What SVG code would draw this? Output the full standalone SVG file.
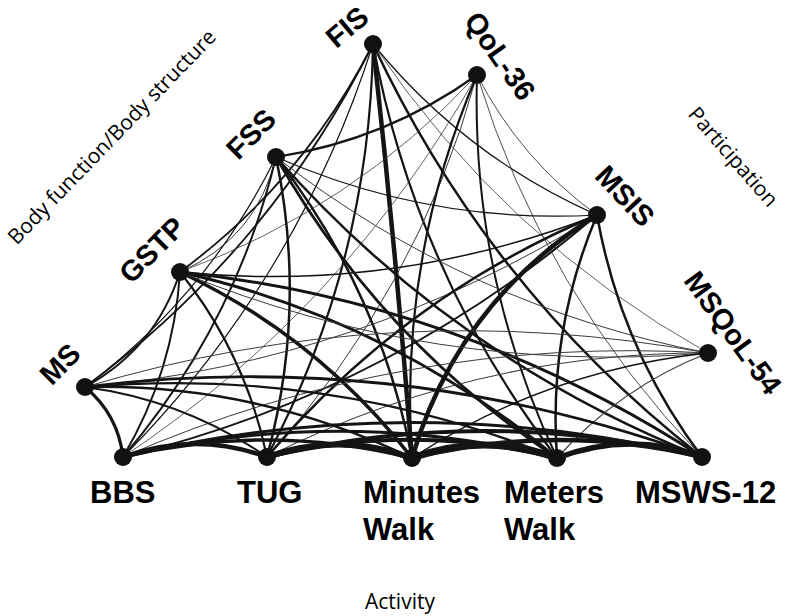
<svg xmlns="http://www.w3.org/2000/svg" width="800" height="616" viewBox="0 0 800 616">
<style>
.e{fill:none;stroke:#141414;stroke-linecap:round}
.t{stroke:#3a3a3a}
.n{fill:#111}
.lb{font-family:"Liberation Sans",Arial,sans-serif;font-weight:bold;font-size:31px;fill:#000}
.lr{font-family:"Liberation Sans",Arial,sans-serif;font-weight:bold;font-size:29px;fill:#000;text-anchor:middle}
.dom{font-family:"Open Sans","DejaVu Sans",sans-serif;font-size:21px;fill:#000;text-anchor:middle}
</style>
<rect width="800" height="616" fill="#fff"/>
<g id="connectors">
<path class="e" stroke-width="1.8" d="M373,44 Q303.7,180.7 180,272"/>
<path class="e" stroke-width="1.8" d="M373,44 Q270.2,250.1 85,387"/>
<path class="e" stroke-width="1.2" d="M373,44 Q297.6,280.5 123,457"/>
<path class="e" stroke-width="2.2" d="M373,44 Q369.6,263.2 267,457"/>
<path class="e" stroke-width="4.5" d="M373,44 Q396,251 412,458"/>
<path class="e" stroke-width="2.2" d="M373,44 Q415.3,273.1 557,458"/>
<path class="e" stroke-width="2.5" d="M373,44 Q487.9,290 702,457"/>
<path class="e" stroke-width="1.2" d="M373,44 Q464.5,156.4 597,215"/>
<path class="e t" stroke-width="0.8" d="M373,44 Q503.4,238.7 708,353"/>
<path class="e" stroke-width="2.2" d="M477,75 Q386.3,140.1 276,157"/>
<path class="e t" stroke-width="0.8" d="M477,75 Q345.8,308.5 123,457"/>
<path class="e t" stroke-width="1" d="M477,75 Q417.8,291.2 267,457"/>
<path class="e" stroke-width="2.2" d="M477,75 Q398.5,258.7 412,458"/>
<path class="e" stroke-width="2" d="M477,75 Q471,276.1 557,458"/>
<path class="e t" stroke-width="0.9" d="M477,75 Q543.7,293 702,457"/>
<path class="e t" stroke-width="0.9" d="M477,75 Q520.2,159.4 597,215"/>
<path class="e t" stroke-width="0.8" d="M477,75 Q352.1,209.1 180,272"/>
<path class="e t" stroke-width="1" d="M276,157 Q256.8,238.5 180,272"/>
<path class="e" stroke-width="1.2" d="M276,157 Q208.1,294.9 85,387"/>
<path class="e" stroke-width="2" d="M276,157 Q235.5,325.4 123,457"/>
<path class="e" stroke-width="2.5" d="M276,157 Q307.5,308.1 267,457"/>
<path class="e" stroke-width="2.5" d="M276,157 Q380.1,291.2 412,458"/>
<path class="e" stroke-width="2.8" d="M276,157 Q380.4,341.2 557,458"/>
<path class="e" stroke-width="2.5" d="M276,157 Q453,358.1 702,457"/>
<path class="e" stroke-width="1.2" d="M276,157 Q429.5,224.5 597,215"/>
<path class="e t" stroke-width="1" d="M276,157 Q468.5,306.8 708,353"/>
<path class="e" stroke-width="1.5" d="M597,215 Q395.3,293.5 180,272"/>
<path class="e t" stroke-width="1" d="M597,215 Q361.6,362.4 85,387"/>
<path class="e" stroke-width="2" d="M597,215 Q389,392.9 123,457"/>
<path class="e" stroke-width="2.5" d="M597,215 Q403,296.4 267,457"/>
<path class="e" stroke-width="4.5" d="M597,215 Q458.3,301.3 412,458"/>
<path class="e" stroke-width="2.5" d="M597,215 Q547.8,331.7 557,458"/>
<path class="e" stroke-width="2.5" d="M597,215 Q620.5,348.6 702,457"/>
<path class="e" stroke-width="2" d="M180,272 Q155.5,348.5 85,387"/>
<path class="e" stroke-width="2" d="M180,272 Q173.7,371.3 123,457"/>
<path class="e" stroke-width="2.2" d="M180,272 Q245.7,354.1 267,457"/>
<path class="e" stroke-width="3.5" d="M180,272 Q318.3,337.2 412,458"/>
<path class="e" stroke-width="3" d="M180,272 Q390.8,319.8 557,458"/>
<path class="e" stroke-width="3" d="M180,272 Q463.2,301.9 702,457"/>
<path class="e t" stroke-width="1" d="M180,272 Q434.3,375.9 708,353"/>
<path class="e t" stroke-width="1" d="M708,353 Q392.4,295.2 85,387"/>
<path class="e t" stroke-width="1" d="M708,353 Q403,334.8 123,457"/>
<path class="e t" stroke-width="1.2" d="M708,353 Q475,352.1 267,457"/>
<path class="e" stroke-width="1.5" d="M708,353 Q547.4,370 412,458"/>
<path class="e t" stroke-width="1.2" d="M708,353 Q619.9,387.4 557,458"/>
<path class="e" stroke-width="3.2" d="M85,387 Q118,414.4 123,457"/>
<path class="e" stroke-width="2" d="M85,387 Q184.4,400.2 267,457"/>
<path class="e" stroke-width="2.5" d="M85,387 Q257,383.3 412,458"/>
<path class="e" stroke-width="2.2" d="M85,387 Q329.5,365.9 557,458"/>
<path class="e" stroke-width="2.8" d="M85,387 Q401.9,348 702,457"/>
<path class="e" stroke-width="4.5" d="M123,457 Q195,431 267,457"/>
<path class="e" stroke-width="3.5" d="M123,457 Q267.5,422.5 412,458"/>
<path class="e" stroke-width="3" d="M123,457 Q340,405 557,458"/>
<path class="e" stroke-width="3" d="M123,457 Q412.5,388 702,457"/>
<path class="e" stroke-width="6" d="M267,457 Q339.5,431.5 412,458"/>
<path class="e" stroke-width="4" d="M267,457 Q412,422 557,458"/>
<path class="e" stroke-width="4" d="M267,457 Q484.5,405 702,457"/>
<path class="e" stroke-width="7" d="M412,458 Q484.5,432 557,458"/>
<path class="e" stroke-width="4.5" d="M412,458 Q557,422.5 702,457"/>
<path class="e" stroke-width="5.5" d="M557,458 Q629.5,430.5 702,457"/>
</g>
<g id="FIS"><circle class="n" cx="373" cy="44" r="9"/><text class="lr" transform="translate(347,27) rotate(-40)" y="10">FIS</text></g>
<g id="QoL-36"><circle class="n" cx="477" cy="75" r="9"/><text class="lr" transform="translate(500,56) rotate(55)" y="10">QoL-36</text></g>
<g id="FSS"><circle class="n" cx="276" cy="157" r="9"/><text class="lr" transform="translate(251,134) rotate(-45)" y="10">FSS</text></g>
<g id="MSIS"><circle class="n" cx="597" cy="215" r="9"/><text class="lr" transform="translate(625,196) rotate(47)" y="10">MSIS</text></g>
<g id="GSTP"><circle class="n" cx="180" cy="272" r="9"/><text class="lr" transform="translate(152,250) rotate(-45)" y="10">GSTP</text></g>
<g id="MSQoL-54"><circle class="n" cx="708" cy="353" r="9"/><text class="lr" transform="translate(733,333) rotate(54)" y="10">MSQoL-54</text></g>
<g id="MS"><circle class="n" cx="85" cy="387" r="9"/><text class="lr" transform="translate(60,364) rotate(-45)" y="10">MS</text></g>
<g id="BBS"><circle class="n" cx="123" cy="457" r="9"/><text class="lb" x="90" y="503">BBS</text></g>
<g id="TUG"><circle class="n" cx="267" cy="457" r="9"/><text class="lb" x="237" y="503">TUG</text></g>
<g id="MinutesWalk"><circle class="n" cx="412" cy="458" r="9"/><text class="lb" x="363" y="503">Minutes</text><text class="lb" x="363" y="540">Walk</text></g>
<g id="MetersWalk"><circle class="n" cx="557" cy="458" r="9"/><text class="lb" x="504" y="503">Meters</text><text class="lb" x="504" y="540">Walk</text></g>
<g id="MSWS-12"><circle class="n" cx="702" cy="457" r="9"/><text class="lb" x="635" y="503">MSWS-12</text></g>
<g id="domains">
<text class="dom" transform="translate(112,137) rotate(-46)" y="7">Body function/Body structure</text>
<text class="dom" transform="translate(733,157) rotate(49)" y="7">Participation</text>
<text class="dom" x="400" y="609">Activity</text>
</g>
</svg>
